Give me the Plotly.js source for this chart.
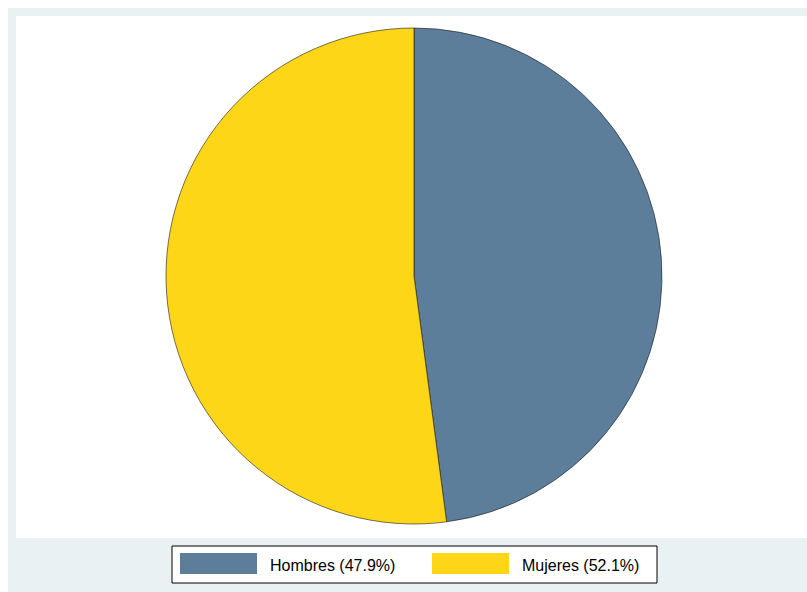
<!DOCTYPE html>
<html>
<head>
<meta charset="utf-8">
<script src="https://cdn.plot.ly/plotly-3.0.1.min.js"></script>
<style>html,body{margin:0;padding:0;background:#fff;}#chart{width:807px;height:592px;}</style>
</head>
<body>
<div id="chart"></div>
<script>
const categories = ["Hombres", "Mujeres"];
const shares = [47.9, 52.1];
const sliceColors = ["#5d7e9a", "#fdd618"];

const W = 807, H = 592;
const px = x => x / W;
const py = y => 1 - y / H;

const shapes = [
  {type: "rect", xref: "paper", yref: "paper", layer: "below",
   x0: px(8), x1: px(807), y0: py(592), y1: py(8),
   fillcolor: "#e9f1f3", line: {width: 0}},
  {type: "rect", xref: "paper", yref: "paper", layer: "below",
   x0: px(16), x1: px(807), y0: py(538), y1: py(16),
   fillcolor: "#ffffff", line: {width: 0}},
  {type: "rect", xref: "paper", yref: "paper", layer: "above",
   x0: px(172), x1: px(657), y0: py(583), y1: py(546),
   fillcolor: "#ffffff", line: {color: "#000000", width: 1}}
];
const annotations = [];
const swatchX = [180, 432];
categories.forEach((c, i) => {
  shapes.push({type: "rect", xref: "paper", yref: "paper", layer: "above",
    x0: px(swatchX[i]), x1: px(swatchX[i] + 77), y0: py(574), y1: py(553),
    fillcolor: sliceColors[i], line: {width: 0}});
  annotations.push({xref: "paper", yref: "paper", x: px(swatchX[i] + 88), y: py(565),
    xanchor: "left", yanchor: "middle", showarrow: false,
    text: c + " (" + shares[i].toFixed(1) + "%)",
    font: {family: "Liberation Sans, Arial, sans-serif", size: 16, color: "#000000"}});
});

const cx = 414, cy = 276, r = 248;
const trace = {
  type: "pie",
  labels: categories,
  values: shares,
  sort: false,
  direction: "clockwise",
  rotation: 0,
  textinfo: "none",
  hoverinfo: "label+percent",
  marker: {colors: sliceColors, line: {color: "#1a1a1a", width: 0.6}},
  domain: {x: [px(cx - r), px(cx + r)], y: [py(cy + r), py(cy - r)]},
  showlegend: false
};

Plotly.newPlot("chart", [trace], {
  width: W, height: H,
  margin: {l: 0, r: 0, t: 0, b: 0},
  paper_bgcolor: "#ffffff",
  showlegend: false,
  shapes: shapes,
  annotations: annotations
}, {displayModeBar: false, staticPlot: true});
</script>
</body>
</html>
